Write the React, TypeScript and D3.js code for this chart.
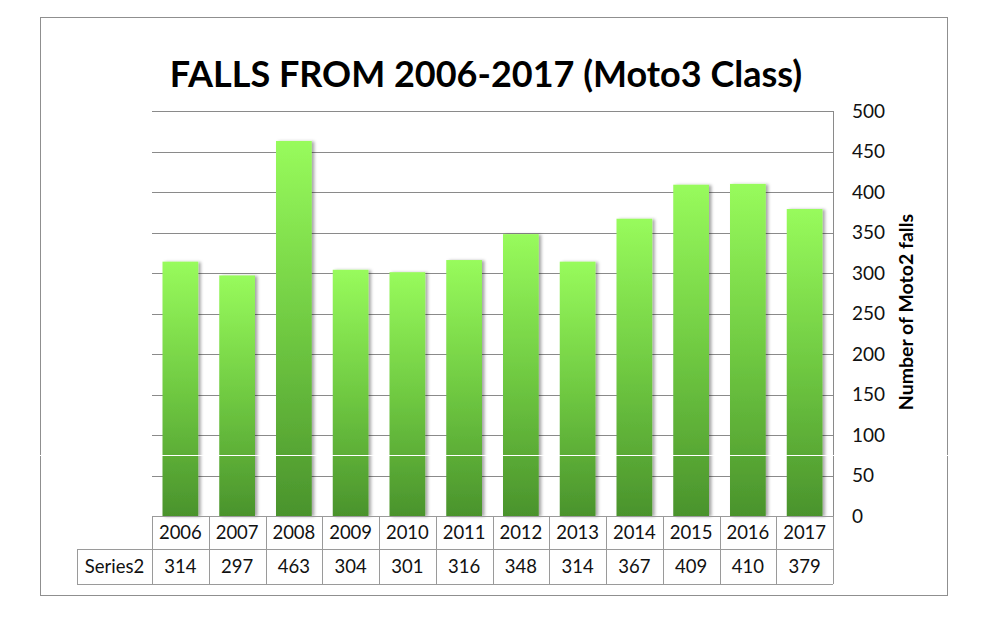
import React from 'react';
import * as d3 from 'd3';

const YEARS = ['2006', '2007', '2008', '2009', '2010', '2011', '2012', '2013', '2014', '2015', '2016', '2017'];
const FALLS = [314, 297, 463, 304, 301, 316, 348, 314, 367, 409, 410, 379];
const Y_TICKS = [0, 50, 100, 150, 200, 250, 300, 350, 400, 450, 500];
const SERIES_NAME = 'Series2';
const TITLE = 'FALLS FROM 2006-2017 (Moto3 Class)';
const Y_TITLE = 'Number of Moto2 falls';

const W = 986;
const H = 622;
const plot = { left: 152, right: 833, top: 111, bottom: 516 };
const rowH = [33, 35];
const labelLeft = 77;
const FONT = 'Lato, "Open Sans", sans-serif';

const App: React.FC = () => {
  const col = d3.scaleBand<string>().domain(YEARS).range([plot.left, plot.right]).padding(0);
  const y = d3.scaleLinear().domain([0, 500]).range([plot.bottom, plot.top]);
  const barW = col.bandwidth() * 0.63;
  const row1 = plot.bottom;
  const row2 = row1 + rowH[0];
  const row3 = row2 + rowH[1];

  return (
    <svg width={W} height={H} style={{ position: 'fixed', left: 0, top: 0, background: '#fff' }}>
      <defs>
        <linearGradient id="barGrad" x1="0" y1="0" x2="0" y2="1">
          <stop offset="0%" stopColor="#98fb5c" />
          <stop offset="50%" stopColor="#70ca42" />
          <stop offset="100%" stopColor="#4a932c" />
        </linearGradient>
        <filter id="shadow" x="-20%" y="-5%" width="150%" height="110%">
          <feDropShadow dx="2.5" dy="0.5" stdDeviation="1.6" floodColor="#000" floodOpacity="0.35" />
        </filter>
      </defs>

      {/* chart border */}
      <rect x={40.5} y={17.5} width={907} height={578} fill="#fff" stroke="#8f8f8f" strokeWidth={1} />

      <text x={486} y={87} textAnchor="middle" fontFamily={FONT} fontWeight={700} fontSize={36} fill="#000">
        {TITLE}
      </text>

      {/* grid */}
      {Y_TICKS.filter(t => t > 0).map(t => (
        <line key={t} x1={plot.left} x2={plot.right} y1={Math.round(y(t)) + 0.5} y2={Math.round(y(t)) + 0.5}
          stroke="#8a8a8a" strokeWidth={1} />
      ))}
      <line x1={plot.right + 0.5} x2={plot.right + 0.5} y1={plot.top} y2={plot.bottom} stroke="#8a8a8a" />

      {/* bars */}
      {FALLS.map((v, i) => {
        const cx = col(YEARS[i])! + col.bandwidth() / 2;
        return (
          <rect key={YEARS[i]} x={cx - barW / 2} y={y(v)} width={barW} height={y(0) - y(v)}
            fill="url(#barGrad)" filter="url(#shadow)" />
        );
      })}

      {/* right axis ticks */}
      {Y_TICKS.map(t => (
        <text key={t} x={852} y={y(t)} dy="0.35em" fontFamily={FONT} fontSize={19} fill="#111">
          {t}
        </text>
      ))}
      <text transform={`translate(913,312) rotate(-90)`} textAnchor="middle" fontFamily={FONT}
        fontWeight={700} fontSize={19.5} fill="#000">
        {Y_TITLE}
      </text>

      {/* data table */}
      <g stroke="#9a9a9a" strokeWidth={1} fill="none">
        <line x1={plot.left} x2={plot.right} y1={row1 + 0.5} y2={row1 + 0.5} />
        <line x1={labelLeft} x2={plot.right} y1={row2 + 0.5} y2={row2 + 0.5} />
        <line x1={labelLeft} x2={plot.right} y1={row3 + 0.5} y2={row3 + 0.5} />
        <line x1={labelLeft + 0.5} x2={labelLeft + 0.5} y1={row2} y2={row3} />
        {[...YEARS.map(d => col(d)!), plot.right].map((x, i) => (
          <line key={i} x1={Math.round(x) + 0.5} x2={Math.round(x) + 0.5} y1={row1} y2={row3} />
        ))}
      </g>
      {YEARS.map((d, i) => {
        const cx = col(d)! + col.bandwidth() / 2;
        return (
          <g key={d} fontFamily={FONT} fontSize={18.5} fill="#111" textAnchor="middle">
            <text x={cx} y={row1 + rowH[0] / 2} dy="0.35em">{d}</text>
            <text x={cx} y={row2 + rowH[1] / 2} dy="0.35em">{FALLS[i]}</text>
          </g>
        );
      })}
      <text x={(labelLeft + plot.left) / 2} y={row2 + rowH[1] / 2} dy="0.35em" textAnchor="middle"
        fontFamily={FONT} fontSize={18.5} fill="#111">
        {SERIES_NAME}
      </text>

      {/* scan artifact line across the image */}
      <line x1={40} x2={948} y1={455.5} y2={455.5} stroke="#fff" strokeWidth={1} />
    </svg>
  );
};

export default App;
